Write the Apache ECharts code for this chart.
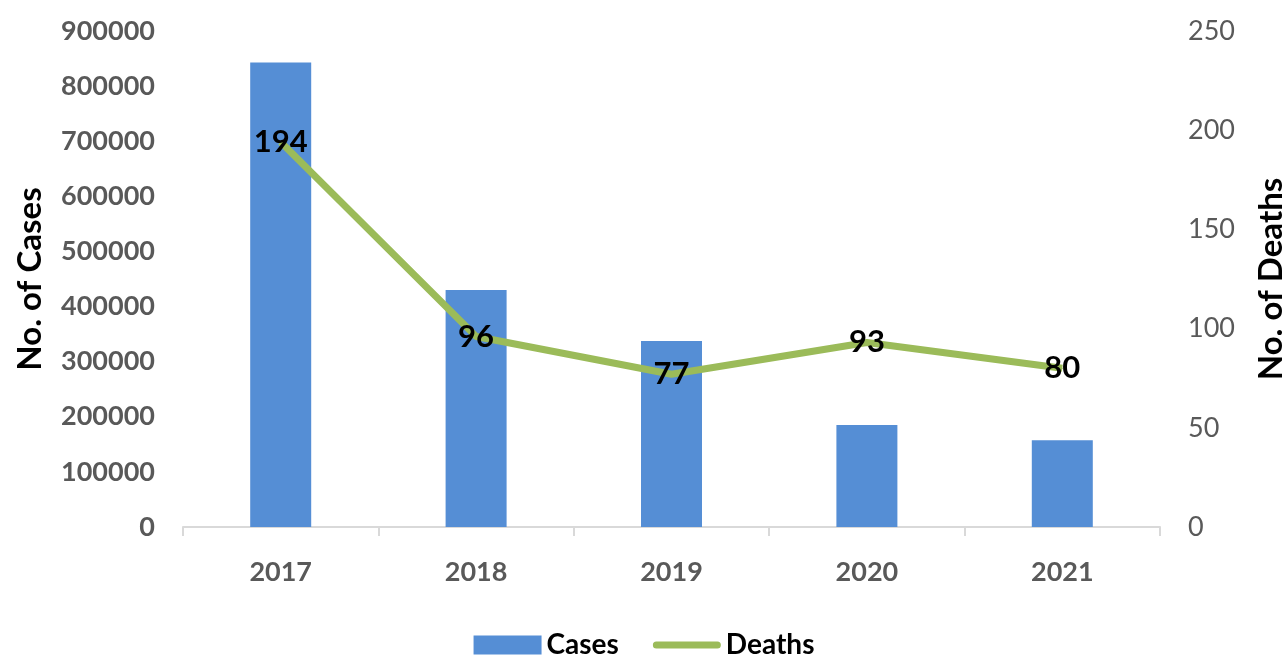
<!DOCTYPE html>
<html>
<head>
<meta charset="utf-8">
<script src="https://cdn.jsdelivr.net/npm/echarts@6/dist/echarts.min.js"></script>
<style>
html,body{margin:0;padding:0;background:#fff;}
#chart{width:1288px;height:658px;}
</style>
</head>
<body>
<div id="chart"></div>
<script>
const years = ['2017', '2018', '2019', '2020', '2021'];
const cases = [843000, 430000, 337500, 185000, 157500];
const deaths = [194, 96, 77, 93, 80];
const casesTicks = { min: 0, max: 900000, interval: 100000 };
const deathsTicks = { min: 0, max: 250, interval: 50 };

const FONT = 'Lato, "Liberation Sans", sans-serif';
const chart = echarts.init(document.getElementById('chart'));
chart.setOption({
  backgroundColor: '#ffffff',
  animation: false,
  textStyle: { fontFamily: FONT },
  grid: { left: 183, right: 128, top: 31, bottom: 131, containLabel: false, outerBoundsMode: 'none' },
  legend: {
    top: 626,
    left: 'center',
    itemGap: 34,
    itemWidth: 68,
    itemHeight: 19,
    textStyle: { fontFamily: FONT, fontSize: 28, fontWeight: 'bold', color: '#000' },
    data: [
      { name: 'Cases', icon: 'rect' },
      { name: 'Deaths', icon: 'path://M3.5,0 H64.5 A3.5,3.5 0 0 1 64.5,7 H3.5 A3.5,3.5 0 0 1 3.5,0 Z' }
    ]
  },
  xAxis: {
    type: 'category',
    data: years,
    axisLine: { lineStyle: { color: '#d9d9d9', width: 2 } },
    axisTick: { show: true, length: 9, lineStyle: { color: '#d9d9d9', width: 2 } },
    axisLabel: { fontFamily: FONT, fontSize: 27, fontWeight: 'bold', color: '#595959', margin: 32 }
  },
  yAxis: [
    {
      type: 'value',
      min: casesTicks.min, max: casesTicks.max, interval: casesTicks.interval,
      name: 'No. of Cases',
      nameLocation: 'middle',
      nameGap: 136,
      nameRotate: 90,
      nameTextStyle: { fontFamily: FONT, fontSize: 33, fontWeight: 'bold', color: '#000' },
      axisLine: { show: false },
      axisTick: { show: false },
      splitLine: { show: false },
      axisLabel: {
        fontFamily: FONT, fontSize: 27, fontWeight: 'bold', color: '#595959', margin: 28,
        formatter: function (v) { return String(v); }
      }
    },
    {
      type: 'value',
      position: 'right',
      min: deathsTicks.min, max: deathsTicks.max, interval: deathsTicks.interval,
      name: 'No. of Deaths',
      nameLocation: 'middle',
      nameGap: 95,
      nameRotate: 90,
      nameTextStyle: { fontFamily: FONT, fontSize: 33, fontWeight: 'bold', color: '#000' },
      axisLine: { show: false },
      axisTick: { show: false },
      splitLine: { show: false },
      axisLabel: { fontFamily: FONT, fontSize: 27, color: '#595959', margin: 28 }
    }
  ],
  series: [
    {
      name: 'Cases',
      type: 'bar',
      data: cases,
      barWidth: 61,
      itemStyle: { color: '#558ed5' },
      z: 2
    },
    {
      name: 'Deaths',
      type: 'line',
      yAxisIndex: 1,
      data: deaths,
      symbol: 'circle',
      symbolSize: 1,
      itemStyle: { color: '#9bbb59' },
      lineStyle: { color: '#9bbb59', width: 7 },
      label: {
        show: true,
        position: 'inside',
        fontFamily: FONT,
        fontSize: 31,
        fontWeight: 'bold',
        color: '#000'
      },
      z: 3
    }
  ]
});
</script>
</body>
</html>
